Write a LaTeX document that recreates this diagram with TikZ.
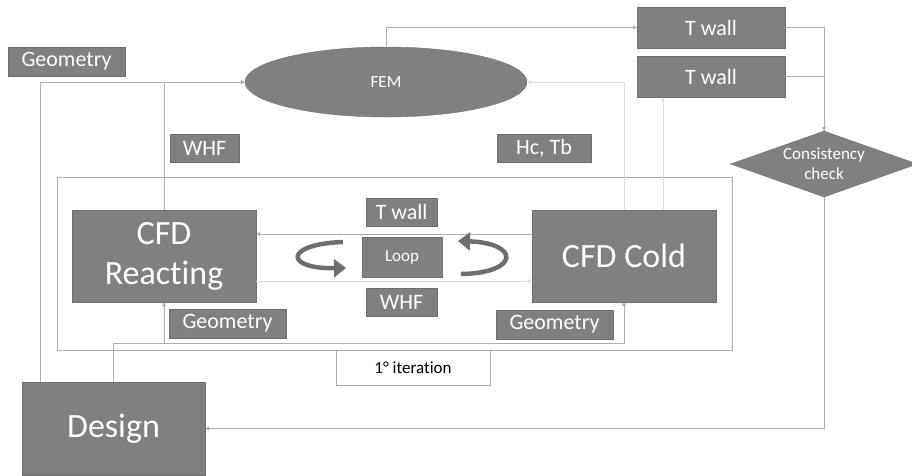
\documentclass[tikz,border=0pt]{standalone}
\usepackage{fontspec}
\setmainfont{Carlito}[Ligatures={NoCommon,NoRare}]
\usetikzlibrary{shapes.geometric,arrows.meta}

\definecolor{boxgray}{HTML}{808080}
\definecolor{boxedge}{HTML}{6E6E6E}
\definecolor{linegray}{HTML}{ADADAD}
\definecolor{faintgray}{HTML}{DEDEDE}

\begin{document}
\begin{tikzpicture}[x=1pt,y=-1pt,
        >={Triangle[length=4pt,width=4pt]},
        block/.style={draw=boxedge,fill=boxgray,text=white,inner sep=0pt,align=center},
        bigbox/.style={block,font=\fontsize{34}{40}\selectfont},
        tag/.style={block,minimum height=28pt,font=\fontsize{22}{24}\selectfont},
        small/.style={font=\fontsize{17}{20}\selectfont},
        link/.style={draw=linegray,line width=0.8pt},
        faintlink/.style={draw=faintgray,line width=0.8pt},
        turn/.style={draw=boxedge,line width=4.5pt,-{Triangle[length=12pt,width=18pt]}}]
        \useasboundingbox (0,0) rectangle (912,475);

        % iteration frame
        \node[draw=linegray,line width=0.8pt,minimum width=675pt,minimum height=173pt] (frame) at (394.5,263.5) {};
        \node[draw=linegray,fill=white,line width=0.8pt,minimum width=154pt,minimum height=35pt,small] (iter) at (413,367.5) {1° iteration};

        \node[tag,minimum width=117pt,minimum height=29pt] (geomtop) at (66.5,61.5) {Geometry};
        \node[block,ellipse,minimum width=282pt,minimum height=70pt,small] (fem) at (386,82) {FEM};
        \node[tag,minimum width=148pt,minimum height=41pt] (twallA) at (711,27.5) {T wall};
        \node[tag,minimum width=148pt,minimum height=41pt] (twallB) at (711,76.5) {T wall};
        \node[block,diamond,minimum width=187pt,minimum height=66pt,
            label={[text=white,align=center,small]center:Consistency\\check}] (check) at (824,164) {};

        \node[tag,minimum width=69pt] (whftop) at (204.5,148) {WHF};
        \node[tag,minimum width=94pt] (hctb) at (544,148) {Hc, Tb};

        \node[bigbox,minimum width=184pt,minimum height=92pt] (reacting) at (164,256) {CFD\\Reacting};
        \node[bigbox,minimum width=184pt,minimum height=92pt] (cold) at (624,256) {CFD Cold};
        \node[tag,minimum width=71pt] (twallmid) at (401.5,212) {T wall};
        \node[block,minimum width=80pt,minimum height=40pt,small] (loop) at (402,257) {Loop};
        \node[tag,minimum width=71pt] (whfmid) at (401.5,302) {WHF};
        \node[tag,minimum width=117pt,minimum height=29pt] (geomleft) at (227.5,323.5) {Geometry};
        \node[tag,minimum width=117pt,minimum height=29pt] (geomright) at (554.5,324.5) {Geometry};

        \node[bigbox,minimum width=183pt,minimum height=93pt] (design) at (113.5,428.5) {Design};

        % to FEM and back
        \draw[link,->] ([xshift=-73.5pt]design.north) |- (fem.west);
        \draw[link,->] (reacting.north) |- (fem.west);
        \draw[faintlink,->] (cold.north) |- (fem.east);
        \draw[faintlink,->] ([xshift=39pt]cold.north) -- ([xshift=39pt]cold.north |- twallB.south);
        \draw[link,->] (fem.north) |- (twallA.west);
        \draw[link,->] (twallA.east) -| (check.north);
        \draw[link] (twallB.east) -| (check.north);
        \draw[link,->] (check.south) |- (design.east);

        % inner loop
        \draw[link,->] ([yshift=22pt]cold.west) -- ([yshift=22pt]reacting.east);
        \draw[faintlink,->] ([yshift=-25pt]reacting.east) -- ([yshift=-25pt]cold.west);
        \coordinate (geobus) at (164,343);
        \draw[link,->] (design.north) |- (geobus) -| (cold.south);
        \draw[link,->] (geobus) -- (reacting.south);

        \draw[turn] (343,242) .. controls (284,244) and (284,269) .. (346,268);
        \draw[turn] (461,274) .. controls (520,273) and (520,243) .. (458,241);
    \end{tikzpicture}
\end{document}
